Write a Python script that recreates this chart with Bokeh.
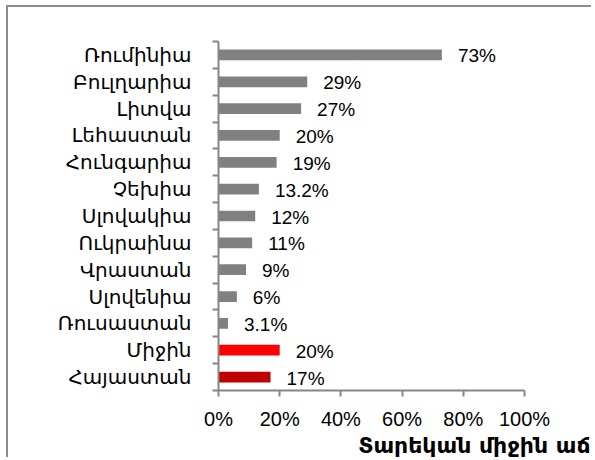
from bokeh.plotting import figure
from bokeh.models import (ColumnDataSource, FixedTicker, NumeralTickFormatter, Range1d,
                          LabelSet, Title)
from bokeh.core.properties import value
from bokeh.embed import file_html
from bokeh.resources import INLINE

categories = ["Ռումինիա", "Բուլղարիա", "Լիտվա", "Լեհաստան", "Հունգարիա", "Չեխիա",
              "Սլովակիա", "Ուկրաինա", "Վրաստան", "Սլովենիա", "Ռուսաստան", "Միջին", "Հայաստան"]
growth = [73, 29, 27, 20, 19, 13.2, 12, 11, 9, 6, 3.1, 20, 17]
value_labels = ["73%", "29%", "27%", "20%", "19%", "13.2%", "12%", "11%", "9%", "6%", "3.1%", "20%", "17%"]
bar_colors = ["#808080"] * 11 + ["#FF0000", "#C00000"]
x_ticks = [0, 0.2, 0.4, 0.6, 0.8, 1.0]
title_text = "Տարեկան միջին աճ"

n = len(categories)
ypos = [n - 1 - i + 0.5 for i in range(n)]
src = ColumnDataSource(dict(y=ypos, v=[g / 100 for g in growth], lab=value_labels,
                            color=bar_colors, cat=categories))

ARM = "DejaVu Sans"
NUM = "Liberation Sans"

p = figure(width=585, height=452, output_backend="svg", toolbar_location=None,
           x_range=Range1d(0, 1), y_range=Range1d(0, n),
           min_border_left=210, min_border_right=69, min_border_top=34, min_border_bottom=66,
           styles={"border-left": "2px solid #8c8c8c", "border-top": "2px solid #8c8c8c",
                   "margin-left": "6px", "margin-top": "5px"})
p.outline_line_color = None
p.grid.grid_line_color = None
p.background_fill_color = "white"
p.border_fill_color = "white"

p.hbar(y="y", right="v", left=0, height=0.4, color="color", source=src, line_color=None)

p.add_layout(LabelSet(x="v", y="y", text="lab", source=src, x_offset=16, y_offset=-1,
                      text_align="left", text_baseline="middle",
                      text_font=value(NUM), text_font_size=value("19px"), text_color="black"))

# x axis
xa = p.xaxis[0]
xa.ticker = FixedTicker(ticks=x_ticks)
xa.formatter = NumeralTickFormatter(format="0%")
xa.axis_line_color = "#868686"
xa.axis_line_width = 2
xa.major_tick_line_color = "#868686"
xa.major_tick_line_width = 2
xa.major_tick_out = 6
xa.major_tick_in = 0
xa.minor_tick_line_color = None
xa.major_label_text_font = NUM
xa.major_label_text_font_size = "20px"
xa.major_label_text_color = "black"
xa.major_label_standoff = 11

# y axis
ya = p.yaxis[0]
ya.ticker = FixedTicker(ticks=ypos, minor_ticks=list(range(n + 1)))
ya.major_label_overrides = {y: c for y, c in zip(ypos, categories)}
ya.axis_line_color = "#868686"
ya.axis_line_width = 2
ya.major_tick_line_color = None
ya.major_tick_out = 0
ya.major_tick_in = 0
ya.minor_tick_line_color = "#868686"
ya.minor_tick_line_width = 2
ya.minor_tick_out = 6
ya.minor_tick_in = 0
ya.major_label_text_font = ARM
ya.major_label_text_font_size = "20px"
ya.major_label_text_color = "black"
ya.major_label_standoff = 21

p.add_layout(Title(text=title_text, align="right", offset=-66, text_font=ARM,
                   text_font_style="bold", text_font_size="22px", text_color="black",
                   vertical_align="top", standoff=0), "below")

open("out.html", "w").write(file_html(p, INLINE))
